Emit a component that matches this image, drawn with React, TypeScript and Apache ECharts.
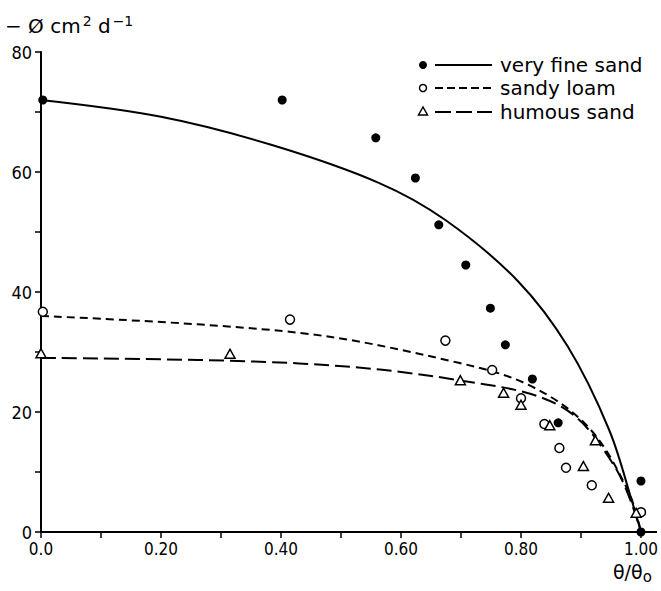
import React, { useEffect, useRef } from "react";
import * as echarts from "echarts";

// observed points
const fineSandX = [0.003, 0.402, 0.558, 0.624, 0.663, 0.708, 0.749, 0.774, 0.819, 0.862, 1.0, 1.0];
const fineSandY = [72, 72, 65.7, 59, 51.2, 44.5, 37.3, 31.2, 25.5, 18.2, 0, 8.5];

const loamX = [0.003, 0.415, 0.674, 0.752, 0.8, 0.839, 0.864, 0.875, 0.918, 1.0];
const loamY = [36.7, 35.4, 31.9, 27, 22.3, 18, 14, 10.7, 7.8, 3.3];

const humousX = [0.0, 0.315, 0.699, 0.771, 0.8, 0.848, 0.924, 0.904, 0.946, 0.992];
const humousY = [29.8, 29.7, 25.3, 23.2, 21.2, 17.8, 15.3, 11, 5.7, 3.2];

// fitted curves
const fineCurveX = [0, 0.2, 0.385, 0.563, 0.674, 0.795, 0.878, 0.947, 0.986, 1.0];
const fineCurveY = [72, 69.2, 64.5, 58.2, 52, 41.8, 30.9, 17, 4.8, 0];

const loamCurveX = [0, 0.43, 0.696, 0.817, 0.912, 0.978, 1.0];
const loamCurveY = [36, 33.2, 28.2, 24.3, 17.5, 7, 0];

const humousCurveX = [0, 0.43, 0.696, 0.867, 0.957, 1.0];
const humousCurveY = [29, 28.1, 25.3, 20.9, 10.8, 0];

const legendNames = ["very fine sand", "sandy loam", "humous sand"];

const zip = (xs: number[], ys: number[]) => xs.map((x, i) => [x, ys[i]]);

export default function App() {
  const ref = useRef<HTMLDivElement>(null);
  useEffect(() => {
    if (!ref.current) return;
    const chart = echarts.init(ref.current, null, { renderer: "svg" });
    const font = "'DejaVu Sans', sans-serif";
    const lx = 423;
    const rows = [65, 88, 112];
    const lineStyleBase = { stroke: "#000", lineWidth: 2 };
    chart.setOption({
      animation: false,
      backgroundColor: "#fff",
      grid: { left: 41, right: 18, top: 52, bottom: 59, containLabel: false },
      xAxis: {
        type: "value",
        min: 0,
        max: 1,
        interval: 0.1,
        axisLine: { show: true, onZero: false, lineStyle: { color: "#000", width: 2 } },
        axisTick: { show: true, length: 6, lineStyle: { color: "#000", width: 1.5 } },
        splitLine: { show: false },
        axisLabel: {
          color: "#000",
          fontSize: 17,
          fontFamily: "'DejaVu Sans Condensed', 'Liberation Sans Narrow', sans-serif",
          margin: 8,
          formatter: (v: number) => {
            const k = Math.round(v * 10);
            if (k % 2 !== 0) return "";
            return k === 0 ? "0.0" : (k / 10).toFixed(2);
          },
        },
      },
      yAxis: {
        type: "value",
        min: 0,
        max: 80,
        interval: 10,
        axisLine: { show: true, onZero: false, lineStyle: { color: "#000", width: 2 } },
        axisTick: { show: true, length: 6, lineStyle: { color: "#000", width: 1.5 } },
        splitLine: { show: false },
        axisLabel: {
          color: "#000",
          fontSize: 18,
          fontFamily: "'DejaVu Sans Condensed', sans-serif",
          margin: 9,
          formatter: (v: number) => (v % 20 === 0 ? String(v) : ""),
        },
      },
      series: [
        {
          type: "line",
          data: zip(fineCurveX, fineCurveY),
          smooth: 0.35,
          symbol: "none",
          lineStyle: { color: "#000", width: 2, type: "solid" },
          z: 2,
        },
        {
          type: "line",
          data: zip(loamCurveX, loamCurveY),
          smooth: 0.35,
          symbol: "none",
          lineStyle: { color: "#000", width: 2, type: [8, 5] },
          z: 2,
        },
        {
          type: "line",
          data: zip(humousCurveX, humousCurveY),
          smooth: 0.35,
          symbol: "none",
          lineStyle: { color: "#000", width: 2, type: [15, 6] },
          z: 2,
        },
        {
          type: "scatter",
          data: zip(fineSandX, fineSandY),
          symbol: "circle",
          symbolSize: 9,
          itemStyle: { color: "#000", opacity: 1 },
          z: 3,
        },
        {
          type: "scatter",
          data: zip(loamX, loamY),
          symbol: "circle",
          symbolSize: 9,
          itemStyle: { color: "#fff", borderColor: "#000", borderWidth: 1.5, opacity: 1 },
          z: 3,
        },
        {
          type: "scatter",
          data: zip(humousX, humousY),
          symbol: "triangle",
          symbolSize: [10, 9],
          itemStyle: { color: "#fff", borderColor: "#000", borderWidth: 1.5, opacity: 1 },
          z: 3,
        },
      ],
      graphic: [
        { type: "line", shape: { x1: 643, y1: 532, x2: 657, y2: 532 }, style: lineStyleBase },
        {
          type: "text",
          x: 5,
          y: 26,
          style: {
            text: "− Ø {n|cm}{s|2} {n|d}{s|−1}",
            font: `20px ${font}`,
            fill: "#000",
            verticalAlign: "middle",
            rich: {
              n: { fontSize: 20, fontFamily: "DejaVu Sans" },
              s: { fontSize: 14, fontFamily: "DejaVu Sans", verticalAlign: "top", padding: [0, 0, 10, 2] },
            },
          },
        },
        {
          type: "text",
          x: 613,
          y: 572,
          style: {
            text: "θ/θ{s|o}",
            font: `19px ${font}`,
            fill: "#000",
            verticalAlign: "middle",
            rich: { s: { fontSize: 15, fontFamily: "DejaVu Sans", padding: [10, 0, 0, 0] } },
          },
        },
        // legend
        { type: "circle", shape: { cx: lx, cy: rows[0], r: 4 }, style: { fill: "#000" } },
        { type: "circle", shape: { cx: lx, cy: rows[1], r: 3.5 }, style: { fill: "#fff", stroke: "#000", lineWidth: 1.5 } },
        {
          type: "polygon",
          shape: { points: [[lx, rows[2] - 5], [lx - 4.5, rows[2] + 3], [lx + 4.5, rows[2] + 3]] },
          style: { fill: "#fff", stroke: "#000", lineWidth: 1.5 },
        },
        { type: "line", shape: { x1: 435, y1: rows[0], x2: 492, y2: rows[0] }, style: lineStyleBase },
        { type: "line", shape: { x1: 435, y1: rows[1], x2: 492, y2: rows[1] }, style: { ...lineStyleBase, lineDash: [8, 4] } },
        { type: "line", shape: { x1: 435, y1: rows[2], x2: 492, y2: rows[2] }, style: { ...lineStyleBase, lineDash: [16, 5] } },
        ...legendNames.map((name, i) => ({
          type: "text",
          x: 500,
          y: rows[i],
          style: { text: name, font: `20px ${font}`, fill: "#000", verticalAlign: "middle" },
        })),
      ],
    });
    return () => chart.dispose();
  }, []);
  return <div ref={ref} style={{ width: 661, height: 591, position: "absolute", left: 0, top: 0 }} />;
}
